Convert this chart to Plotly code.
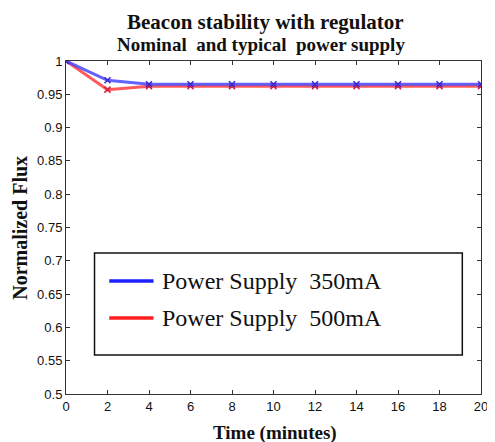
import plotly.graph_objects as go

time_min = [0, 2, 4, 6, 8, 10, 12, 14, 16, 18, 20]
flux_350 = [1.0, 0.971, 0.965, 0.965, 0.965, 0.965, 0.965, 0.965, 0.965, 0.965, 0.965]
flux_500 = [1.0, 0.957, 0.962, 0.962, 0.962, 0.962, 0.962, 0.962, 0.962, 0.962, 0.962]
series_names = ["Power Supply  350mA", "Power Supply  500mA"]
x_ticks = [0, 2, 4, 6, 8, 10, 12, 14, 16, 18, 20]
y_ticks = [0.5, 0.55, 0.6, 0.65, 0.7, 0.75, 0.8, 0.85, 0.9, 0.95, 1.0]
y_tick_text = ["0.5", "0.55", "0.6", "0.65", "0.7", "0.75", "0.8", "0.85", "0.9", "0.95", "1"]

blue = "rgba(70,70,255,0.85)"
red = "rgba(255,60,60,0.85)"
serif = "Liberation Serif, Times New Roman, serif"

fig = go.Figure()
fig.add_trace(go.Scatter(x=time_min, y=flux_500, mode="lines+markers", name=series_names[1],
                         line=dict(color=red, width=3),
                         marker=dict(symbol="x-thin", size=6, line=dict(color="rgb(220,30,60)", width=1.5))))
fig.add_trace(go.Scatter(x=time_min, y=flux_350, mode="lines+markers", name=series_names[0],
                         line=dict(color=blue, width=3),
                         marker=dict(symbol="x-thin", size=6, line=dict(color="rgb(60,40,200)", width=1.5))))

# page body has an 8px default margin; compensate
OFF = 8
W, H = 495 - OFF, 442 - OFF
L, R, T, B = 66 - OFF, 7, 61 - OFF, 48

axis_common = dict(showline=True, linecolor="#333", linewidth=1, mirror="ticks",
                   ticks="inside", ticklen=4, tickcolor="#333", showgrid=False, zeroline=False,
                   ticklabeloverflow="allow",
                   tickfont=dict(family="Arial, Liberation Sans, sans-serif", size=13, color="#111"))
fig.update_xaxes(range=[0, 20], tickvals=x_ticks, **axis_common)
fig.update_yaxes(range=[0.5, 1.0], tickvals=y_ticks, ticktext=y_tick_text, **axis_common)

def px2paper_x(px):
    return (px - OFF - L) / (W - L - R)

def px2paper_y(py):
    return (H - B - (py - OFF)) / (H - T - B)

shapes = [
    dict(type="rect", xref="paper", yref="paper",
         x0=px2paper_x(95), x1=px2paper_x(469), y0=px2paper_y(355), y1=px2paper_y(253),
         line=dict(color="#111", width=1.5), fillcolor="white", layer="above"),
    dict(type="line", xref="paper", yref="paper",
         x0=px2paper_x(110), x1=px2paper_x(155), y0=px2paper_y(281), y1=px2paper_y(281),
         line=dict(color="rgb(30,30,255)", width=3.5)),
    dict(type="line", xref="paper", yref="paper",
         x0=px2paper_x(110), x1=px2paper_x(155), y0=px2paper_y(318), y1=px2paper_y(318),
         line=dict(color="rgb(255,30,30)", width=3.5)),
]

ann = []
ann.append(dict(text="<b>Beacon stability with regulator</b>", x=px2paper_x(269), y=px2paper_y(22),
                xref="paper", yref="paper", showarrow=False, xanchor="center", yanchor="middle",
                font=dict(family=serif, size=21, color="#111")))
ann.append(dict(text="<b>Nominal  and typical  power supply</b>", x=px2paper_x(264), y=px2paper_y(45),
                xref="paper", yref="paper", showarrow=False, xanchor="center", yanchor="middle",
                font=dict(family=serif, size=19, color="#111")))
ann.append(dict(text="<b>Time (minutes)</b>", x=px2paper_x(279), y=px2paper_y(433),
                xref="paper", yref="paper", showarrow=False, xanchor="center", yanchor="middle",
                font=dict(family=serif, size=19, color="#111")))
ann.append(dict(text="<b>Normalized Flux</b>", x=px2paper_x(19), y=px2paper_y(228), textangle=-90,
                xref="paper", yref="paper", showarrow=False, xanchor="center", yanchor="middle",
                font=dict(family=serif, size=20, color="#111")))
ann.append(dict(text=series_names[0], x=px2paper_x(162), y=px2paper_y(281),
                xref="paper", yref="paper", showarrow=False, xanchor="left", yanchor="middle",
                font=dict(family=serif, size=24, color="#111")))
ann.append(dict(text=series_names[1], x=px2paper_x(162), y=px2paper_y(318),
                xref="paper", yref="paper", showarrow=False, xanchor="left", yanchor="middle",
                font=dict(family=serif, size=24, color="#111")))

fig.update_layout(width=W, height=H, margin=dict(l=L, r=R, t=T, b=B),
                  paper_bgcolor="white", plot_bgcolor="white", showlegend=False,
                  shapes=shapes, annotations=ann)

fig.write_html("out.html")
